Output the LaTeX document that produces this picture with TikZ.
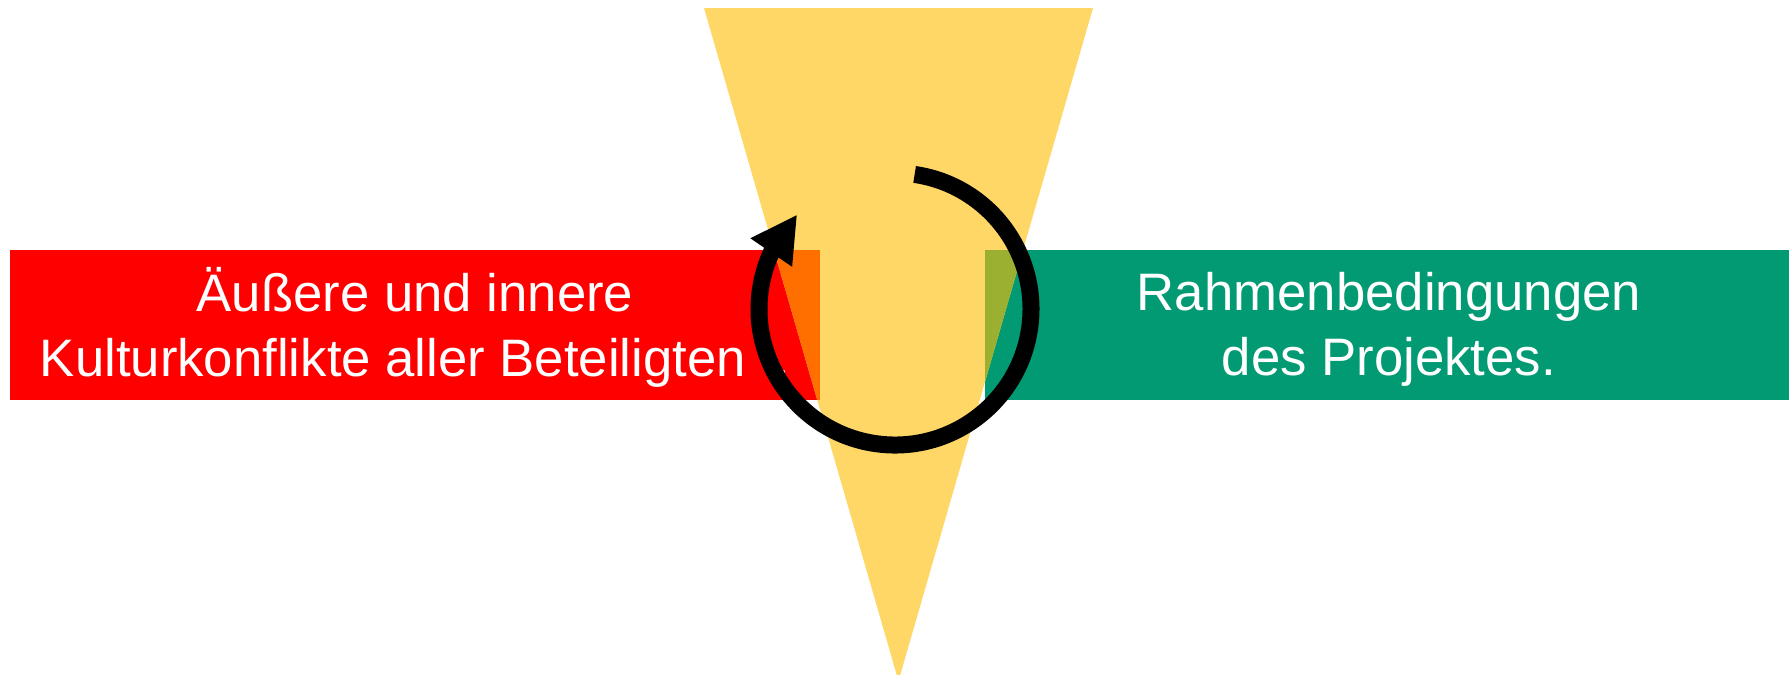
\documentclass[tikz,border=0pt]{standalone}
\usepackage{fontspec}
\setmainfont{Liberation Sans}
\usepackage{tikz}
\usetikzlibrary{arrows.meta,bending}
\tikzset{>={Triangle[length=4.6mm,width=4.7mm,flex]}}
\definecolor{boxred}{RGB}{255,0,0}
\definecolor{boxgreen}{RGB}{2,154,115}
\definecolor{coneyellow}{RGB}{255,215,103}
\definecolor{mixorange}{RGB}{255,111,0}
\definecolor{mixolive}{RGB}{155,175,48}

\begin{document}
\begin{tikzpicture}
      \tikzstyle{boxtext}=[text=white,align=center,inner sep=0pt,font=\fontsize{15}{18.5}\selectfont];
      \tikzstyle{turnarrow}=[line width=1.7mm,->];
      \clip (0,0) rectangle (17.89,-6.74);
      \fill[boxred](0.10,-2.50) rectangle (8.20,-4.00);
      \fill[boxgreen](9.85,-2.50) rectangle (17.89,-4.00);
      \fill[coneyellow](7.04,-0.08)--(10.93,-0.08)--(8.985,-6.81)--cycle;
      \begin{scope}
        \clip (7.04,-0.08)--(10.93,-0.08)--(8.985,-6.81)--cycle;
        \fill[mixorange](0.10,-2.50) rectangle (8.20,-4.00);
        \fill[mixolive](9.85,-2.50) rectangle (17.89,-4.00);
      \end{scope}
      \node[boxtext] (conflicts) at (4.15,-3.27) {Äußere und innere\\Kulturkonflikte aller Beteiligten\ \ .};
      \node[boxtext] (framework) at (13.89,-3.295) {Rahmenbedingungen\\des Projektes.};
      \draw[turnarrow](8.95,-3.09) ++(81.7:1.36) arc[start angle=81.7,end angle=-224,radius=1.36];
\end{tikzpicture}
\end{document}
